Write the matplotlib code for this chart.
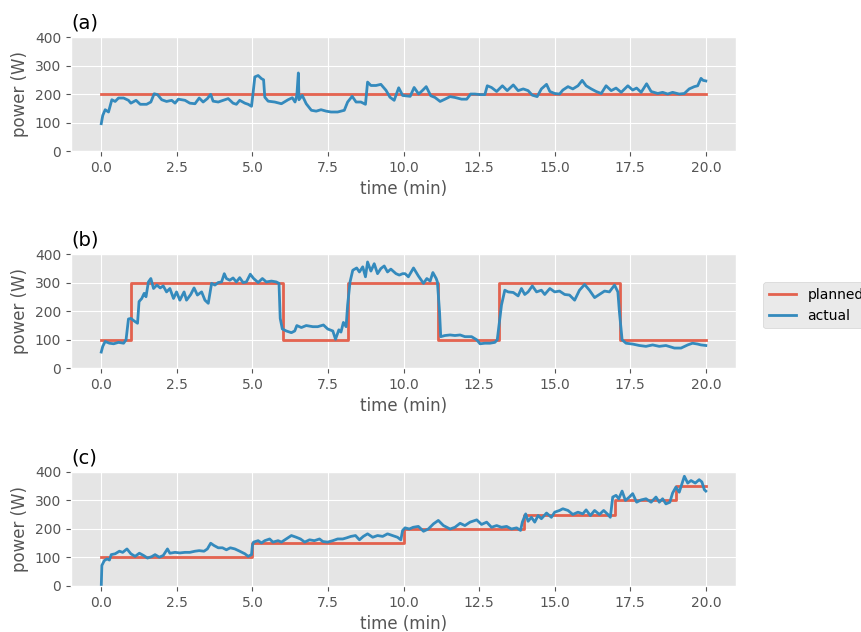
import numpy as np
import matplotlib
matplotlib.use("Agg")
import matplotlib.pyplot as plt

plt.style.use("ggplot")

# planned steps (start time of each step, power); last value repeated at t=20
plan_t_a = [0, 20]
plan_p_a = [200, 200]
plan_t_b = [0, 1, 6, 8.15, 11.15, 13.15, 17.15, 20]
plan_p_b = [100, 300, 100, 300, 100, 300, 100, 100]
plan_t_c = [0, 5, 10, 14, 17, 19, 20]
plan_p_c = [100, 150, 200, 250, 300, 350, 350]

# actual power
t_a = [0, 0.05, 0.13, 0.24, 0.35, 0.46, 0.57, 0.74, 0.9, 0.98, 1.15, 1.29, 1.5, 1.64,
       1.75, 1.86, 2.0, 2.16, 2.33, 2.44, 2.55, 2.77, 2.93, 3.1, 3.24, 3.37, 3.51, 3.62,
       3.7, 3.87, 4.03, 4.2, 4.36, 4.47, 4.58, 4.75, 4.86, 4.97, 5.02, 5.08, 5.19, 5.3,
       5.37, 5.41, 5.52, 5.74, 5.96, 6.18, 6.32, 6.41, 6.47, 6.52, 6.54, 6.65, 6.78,
       6.95, 7.11, 7.27, 7.44, 7.6, 7.82, 8.04, 8.15, 8.3, 8.43, 8.59, 8.74, 8.81, 8.92,
       9.09, 9.25, 9.42, 9.55, 9.69, 9.84, 9.97, 10.05, 10.22, 10.35, 10.5, 10.64, 10.75,
       10.9, 11.04, 11.21, 11.37, 11.54, 11.7, 11.92, 12.09, 12.22, 12.36, 12.53, 12.69,
       12.77, 12.91, 13.08, 13.27, 13.43, 13.63, 13.79, 13.96, 14.12, 14.26, 14.42, 14.56,
       14.73, 14.84, 15.0, 15.16, 15.27, 15.44, 15.6, 15.77, 15.91, 16.04, 16.21, 16.37,
       16.54, 16.7, 16.87, 17.03, 17.2, 17.42, 17.58, 17.71, 17.86, 18.04, 18.19, 18.41,
       18.57, 18.74, 18.9, 19.12, 19.29, 19.45, 19.62, 19.73, 19.84, 19.91, 20.0]
p_a = [96, 125, 145, 137, 180, 174, 186, 186, 178, 168, 178, 164, 164, 172,
       201, 198, 180, 174, 178, 168, 182, 178, 168, 166, 186, 172, 184, 199,
       175, 172, 178, 184, 168, 164, 178, 168, 164, 157, 201, 260, 265, 254,
       250, 189, 175, 172, 166, 180, 187, 172, 195, 274, 180, 195, 166,
       143, 140, 145, 140, 137, 137, 143, 172, 192, 172, 172, 164, 242, 230,
       230, 234, 213, 189, 178, 222, 195, 194, 192, 223, 200, 214, 226,
       194, 188, 174, 182, 191, 188, 182, 182, 200, 200, 198, 198,
       229, 223, 209, 229, 212, 232, 212, 218, 212, 196, 191, 218,
       234, 209, 202, 200, 214, 226, 218, 229, 248, 229, 218, 209,
       202, 229, 212, 221, 206, 229, 214, 221, 206, 236, 209, 202,
       206, 200, 206, 200, 202, 218, 226, 229, 255, 248, 246]

t_b = [0, 0.05, 0.13, 0.27, 0.41, 0.57, 0.74, 0.82, 0.9, 0.98, 1.09, 1.2, 1.25, 1.34,
       1.42, 1.48, 1.56, 1.64, 1.73, 1.84, 1.95, 2.05, 2.16, 2.27, 2.39, 2.49, 2.6, 2.74,
       2.82, 2.96, 3.07, 3.18, 3.32, 3.43, 3.54, 3.65, 3.76, 3.87, 3.98, 4.07, 4.14, 4.25,
       4.36, 4.47, 4.58, 4.69, 4.8, 4.93, 5.04, 5.19, 5.33, 5.46, 5.63, 5.79, 5.88, 5.92,
       5.99, 6.12, 6.29, 6.4, 6.47, 6.62, 6.78, 7.0, 7.16, 7.35, 7.49, 7.66, 7.75, 7.86,
       7.93, 8.01, 8.1, 8.15, 8.23, 8.32, 8.45, 8.54, 8.65, 8.74, 8.81, 8.92, 9.03, 9.14,
       9.25, 9.36, 9.47, 9.58, 9.75, 9.86, 9.97, 10.05, 10.16, 10.33, 10.49, 10.66, 10.77,
       10.88, 10.97, 11.08, 11.12, 11.19, 11.23, 11.37, 11.54, 11.7, 11.87, 12.03, 12.25,
       12.42, 12.53, 12.69, 12.86, 13.02, 13.1, 13.16, 13.24, 13.35, 13.46, 13.63, 13.79,
       13.9, 14.01, 14.12, 14.26, 14.4, 14.56, 14.67, 14.84, 15.0, 15.16, 15.33, 15.49,
       15.66, 15.82, 15.99, 16.15, 16.32, 16.48, 16.65, 16.81, 16.98, 17.09, 17.14, 17.23,
       17.36, 17.58, 17.8, 18.02, 18.24, 18.46, 18.68, 18.96, 19.18, 19.4, 19.56, 19.73,
       19.84, 20.0]
p_b = [56, 76, 93, 87, 85, 90, 87, 99, 172, 174, 165, 157, 233, 244,
       262, 250, 302, 314, 279, 291, 281, 288, 267, 279, 244, 267, 238, 267,
       238, 258, 281, 256, 267, 238, 227, 297, 291, 300, 302, 331, 314, 308,
       316, 302, 317, 300, 302, 329, 314, 300, 314, 302, 305, 302, 297, 174,
       137, 130, 124, 130, 149, 142, 149, 145, 145, 151, 137, 130, 101, 134,
       126, 160, 145, 221, 302, 343, 351, 337, 355, 320, 372, 340, 366, 331,
       349, 358, 337, 347, 331, 326, 331, 331, 320, 351, 323, 297, 314,
       305, 335, 314, 302, 198, 110, 114, 116, 114, 116, 110, 110,
       99, 85, 87, 87, 90, 99, 151, 221, 273, 267, 265, 253,
       279, 258, 267, 288, 267, 273, 258, 279, 267, 270, 258, 256,
       238, 273, 293, 273, 247, 258, 270, 267, 291, 267, 198, 99,
       87, 84, 79, 76, 81, 76, 79, 70, 70, 81, 87, 84,
       81, 79]

t_c = [0, 0.02, 0.1, 0.19, 0.27, 0.33, 0.46, 0.6, 0.71, 0.85, 0.98, 1.12, 1.26, 1.4,
       1.53, 1.67, 1.78, 1.92, 2.05, 2.19, 2.27, 2.44, 2.6, 2.77, 2.93, 3.1, 3.24, 3.4,
       3.51, 3.62, 3.73, 3.87, 4.01, 4.14, 4.27, 4.42, 4.58, 4.75, 4.86, 4.97, 5.0, 5.04,
       5.19, 5.3, 5.41, 5.57, 5.68, 5.85, 5.96, 6.12, 6.29, 6.45, 6.59, 6.73, 6.89, 7.05,
       7.22, 7.33, 7.49, 7.66, 7.82, 7.99, 8.12, 8.26, 8.41, 8.54, 8.67, 8.81, 8.98, 9.14,
       9.31, 9.47, 9.64, 9.8, 9.91, 9.97, 10.05, 10.19, 10.32, 10.49, 10.66, 10.82, 10.99,
       11.15, 11.32, 11.54, 11.7, 11.87, 12.03, 12.2, 12.42, 12.58, 12.75, 12.91, 13.08,
       13.24, 13.41, 13.57, 13.74, 13.87, 13.93, 14.04, 14.12, 14.23, 14.34, 14.45, 14.56,
       14.73, 14.89, 15.0, 15.16, 15.27, 15.44, 15.6, 15.77, 15.93, 16.04, 16.18, 16.32,
       16.48, 16.62, 16.76, 16.84, 16.92, 17.03, 17.12, 17.23, 17.34, 17.47, 17.58, 17.71,
       17.86, 18.02, 18.19, 18.35, 18.46, 18.57, 18.68, 18.81, 18.9, 19.01, 19.12, 19.21,
       19.29, 19.4, 19.51, 19.65, 19.78, 19.87, 19.95, 20.0]
p_c = [0, 72, 89, 95, 91, 110, 113, 122, 118, 130, 113, 104, 115, 107,
       98, 103, 110, 101, 107, 130, 115, 118, 116, 118, 118, 122, 124, 122,
       130, 150, 142, 134, 134, 127, 134, 130, 122, 113, 104, 110, 142, 154,
       159, 151, 159, 165, 154, 159, 154, 165, 177, 171, 165, 154, 162, 159,
       165, 156, 154, 159, 165, 165, 169, 174, 177, 162, 174, 183, 171, 177,
       174, 183, 177, 171, 162, 195, 204, 200, 206, 209, 192, 200, 218,
       230, 212, 200, 206, 220, 212, 224, 232, 216, 224, 206, 212,
       206, 209, 200, 204, 195, 224, 253, 227, 241, 224, 247, 236,
       256, 241, 259, 265, 271, 265, 251, 259, 253, 267, 247, 265,
       251, 265, 251, 241, 312, 318, 306, 333, 300, 312, 324, 294,
       302, 306, 294, 312, 294, 306, 288, 294, 326, 347, 329, 359,
       385, 361, 370, 361, 373, 365, 338, 333]

panels = [
    ("(a)", plan_t_a, plan_p_a, t_a, p_a),
    ("(b)", plan_t_b, plan_p_b, t_b, p_b),
    ("(c)", plan_t_c, plan_p_c, t_c, p_c),
]

fig = plt.figure(figsize=(8.62, 6.32), dpi=100)
bottoms = [0.761, 0.4177, 0.0728]

for (label, pt, pp, at, ap), b in zip(panels, bottoms):
    ax = fig.add_axes([0.0824, b, 0.7715, 0.1804])
    ax.plot(pt, pp, drawstyle="steps-post", color="#E24A33", alpha=0.85,
            lw=2, label="planned")
    ax.plot(at, ap, color="#348ABD", lw=2, label="actual")
    ax.set_ylim(0, 400)
    ax.set_yticks([0, 100, 200, 300, 400])
    ax.set_xticks(np.arange(0, 20.1, 2.5))
    ax.set_xlabel("time (min)")
    ax.set_ylabel("power (W)")
    ax.set_title(label, loc="left", fontsize=14, color="black")
    if label == "(b)":
        ax.legend(loc="center left", bbox_to_anchor=(1.03, 0.55), fontsize=10)

fig.savefig("out.png", dpi=100)
